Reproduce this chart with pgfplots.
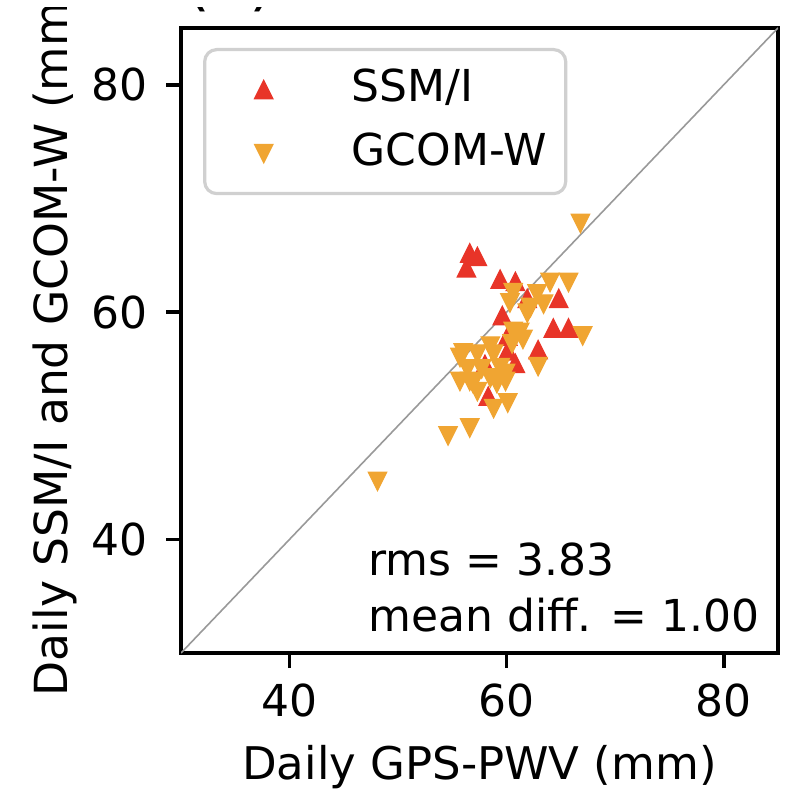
\documentclass[border=0pt]{standalone}
\usepackage{pgfplots}
\pgfplotsset{compat=1.18}
\usepackage{fontspec}
\setmainfont{DejaVu Sans}
\definecolor{ssmi}{RGB}{232,52,40}
\definecolor{gcom}{RGB}{240,165,50}
\definecolor{leggray}{RGB}{208,208,208}
\pgfdeclareplotmark{mtri}{%
  \pgfpathmoveto{\pgfqpoint{0pt}{\pgfplotmarksize}}%
  \pgfpathlineto{\pgfqpoint{-\pgfplotmarksize}{-\pgfplotmarksize}}%
  \pgfpathlineto{\pgfqpoint{\pgfplotmarksize}{-\pgfplotmarksize}}%
  \pgfpathclose\pgfusepathqfillstroke}
\pgfdeclareplotmark{mtrid}{%
  \pgfpathmoveto{\pgfqpoint{0pt}{-\pgfplotmarksize}}%
  \pgfpathlineto{\pgfqpoint{-\pgfplotmarksize}{\pgfplotmarksize}}%
  \pgfpathlineto{\pgfqpoint{\pgfplotmarksize}{\pgfplotmarksize}}%
  \pgfpathclose\pgfusepathqfillstroke}
\pgfplotstableread{
x y
56.6 65.2
57.3 64.9
56.3 63.9
59.4 62.9
60.8 62.7
61.9 61.2
64.8 61.2
64.3 58.6
65.7 58.6
59.6 59.7
60.1 57.9
62.9 56.7
60.1 56.6
60.8 55.5
58.0 55.4
58.3 52.6
}\ssmitab
\pgfplotstableread{
x y
66.8 67.8
65.7 62.6
64.0 62.6
62.8 61.6
60.6 61.7
61.9 59.9
60.3 60.8
62.2 60.4
63.4 60.7
67.0 57.9
62.9 55.2
61.2 58.2
60.6 58.3
61.5 57.6
60.5 57.2
59.9 54.6
59.9 53.9
56.0 56.4
55.7 56.0
58.5 57.0
58.8 56.3
57.3 56.3
56.4 55.0
57.7 55.0
59.4 55.1
56.6 53.9
58.5 54.2
55.7 53.9
56.9 53.7
59.1 53.7
57.3 53.0
60.1 52.0
58.8 51.5
56.6 49.8
54.6 49.1
48.1 45.1
}\gcomtab
\begin{document}
\begin{tikzpicture}[font=\fontsize{11}{13}\selectfont]
\begin{axis}[at={(0pt,0pt)}, anchor=south west, scale only axis,
  width=149.25pt, height=156.25pt,
  xmin=30, xmax=85, ymin=30, ymax=85,
  xtick={40,60,80}, ytick={40,60,80},
  xtick pos=lower, ytick pos=left,
  tick align=outside, major tick length=3.75pt,
  tick style={line width=0.9pt, black},
  axis line style={line width=0.9pt},
  /pgf/number format/assume math mode=true,
  xticklabel style={anchor=base, yshift=-12pt},
  yticklabel style={anchor=east, xshift=-1pt},
  xlabel={Daily GPS-PWV (mm)},
  ylabel={Daily SSM/I and GCOM-W (mm)},
  xlabel style={at={(axis description cs:0.5,-0.203)}, anchor=base, font=\fontsize{11.25}{13}\selectfont},
  ylabel style={at={(axis description cs:-0.211,0.5)}, anchor=center, font=\fontsize{11.4}{13}\selectfont},
  legend cell align=left,
  legend image code/.code={%
    \path[draw=none, fill=none] (0pt,0pt) -- (21pt,0pt);
    \draw[#1, only marks] plot coordinates {(11pt,0pt)};},
  legend style={at={(0.037,0.968)}, anchor=north west, draw=leggray, line width=0.8pt,
    rounded corners=3pt, fill=white, inner xsep=3.75pt, inner ysep=2.5pt,
    column sep=11pt, row sep=1pt,
    nodes={inner xsep=1pt, inner ysep=2pt, text height=8.5pt, text depth=2.5pt}},
]
\addplot[gray!80, line width=0.4pt, forget plot] coordinates {(30,30) (85,85)};
\addplot[only marks, mark=mtri, mark size=2.3pt, color=ssmi,
  mark options={fill=ssmi, line width=0.3pt}] table[x=x,y=y] {\ssmitab};
\addlegendentry{SSM/I}
\addplot[only marks, mark=mtrid, mark size=2.3pt, color=gcom,
  mark options={fill=gcom, line width=0.3pt}] table[x=x,y=y] {\gcomtab};
\addlegendentry{GCOM-W}
\node[anchor=base west, inner sep=0pt] at (axis cs:47.2,36.8) {rms = 3.83};
\node[anchor=base west, inner sep=0pt] at (axis cs:47.2,31.9) {mean diff. = 1.00};
\end{axis}
\node[anchor=base west, inner sep=0pt, font=\fontsize{16}{18}\selectfont] at (1pt,162.4pt) {(a)};
\fill[white] (-50pt,161.5pt) rectangle (160pt,175pt);
\pgfresetboundingbox
\path[use as bounding box] (-45.25pt,-34pt) rectangle (151.5pt,163.25pt);
\end{tikzpicture}
\end{document}
